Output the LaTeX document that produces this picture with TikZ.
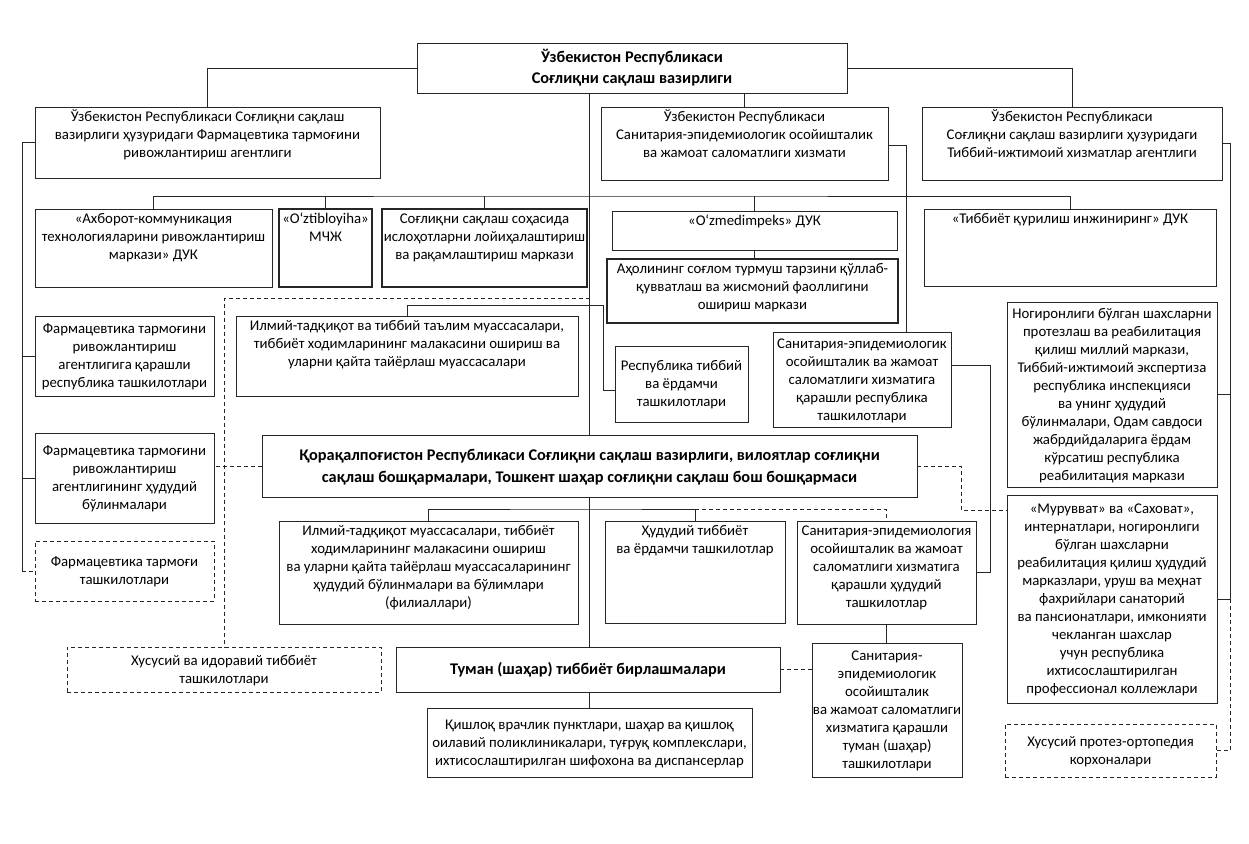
\documentclass[tikz,border=0pt]{standalone}
\usepackage{fontspec}
\setmainfont{Carlito}
\usetikzlibrary{calc}
\newcommand{\ubox}[8][]{%
  \node[boxst,#1,anchor=north west] (#2) at (#3,#4)
  {\parbox[t][\dimexpr #6pt-#4pt\relax][#7]{\dimexpr #5pt-#3pt\relax}{\centering\vspace*{2pt}%
  \begin{tabular}{@{}c@{}}#8\end{tabular}\par}};}
\tikzset{
  boxst/.style={draw=black!85, line width=0.8pt, fill=white, inner sep=0pt, outer sep=0pt,
    font=\fontsize{14.8}{18}\selectfont},
  thick box/.style={line width=1.6pt},
  dbox/.style={dash pattern=on 4pt off 3pt},
  ln/.style={draw=black!85, line width=0.8pt},
  dsh/.style={dash pattern=on 4pt off 3pt},
  boldt/.style={font=\fontsize{16.3}{22.5}\selectfont\bfseries}
}
\begin{document}
\begin{tikzpicture}[x=1pt,y=-1pt]
\fill[white] (0,0) rectangle (1249,843);
\useasboundingbox (0,0) rectangle (1249,843);

% ---- boxes
\ubox[font=\fontsize{16.3}{20.5}\selectfont\bfseries]{top}{417}{43}{847}{93}{c}{Ўзбекистон Республикаси\\Соғлиқни сақлаш вазирлиги}
\ubox{tl}{35}{107}{380}{178}{t}{Ўзбекистон Республикаси Соғлиқни сақлаш\\вазирлиги ҳузуридаги Фармацевтика тармоғини\\ривожлантириш агентлиги}
\ubox{tm}{601}{107}{888}{180}{t}{Ўзбекистон Республикаси\\Санитария-эпидемиологик осойишталик\\ва жамоат саломатлиги хизмати}
\ubox{tr}{922}{107}{1222}{180}{t}{Ўзбекистон Республикаси\\Соғлиқни сақлаш вазирлиги ҳузуридаги\\Тиббий-ижтимоий хизматлар агентлиги}

\ubox{axb}{35}{209}{272}{287}{t}{«Ахборот-коммуникация\\технологияларини ривожлантириш\\маркази» ДУК}
\ubox[thick box]{ozt}{279}{209}{372}{287}{t}{«O‘ztibloyiha»\\МЧЖ}
\ubox[thick box]{sog}{382}{209}{587}{287}{t}{Соғлиқни сақлаш соҳасида\\ислоҳотларни лойиҳалаштириш\\ва рақамлаштириш маркази}
\ubox{ozm}{612}{211}{897}{250}{t}{«O‘zmedimpeks» ДУК}
\ubox[thick box]{aho}{607}{259}{898}{323}{t}{Аҳолининг соғлом турмуш тарзини қўллаб-\\қувватлаш ва жисмоний фаоллигини\\ошириш маркази}
\ubox{tqm}{924}{209}{1216}{286}{t}{«Тиббиёт қурилиш инжиниринг» ДУК}

\ubox{fq}{35}{316}{214}{396}{c}{Фармацевтика тармоғини\\ривожлантириш\\агентлигига қарашли\\республика ташкилотлари}
\ubox{ilm}{236}{316}{578}{396}{t}{Илмий-тадқиқот ва тиббий таълим муассасалари,\\тиббиёт ходимларининг малакасини ошириш ва\\уларни қайта тайёрлаш муассасалари}
\ubox{rep}{615}{346}{748}{422}{c}{Республика тиббий\\ва ёрдамчи\\ташкилотлари}
\ubox{sanr}{773}{332}{951}{427}{c}{Санитария-эпидемиологик\\осойишталик ва жамоат\\саломатлиги хизматига\\қарашли республика\\ташкилотлари}
\ubox{nog}{1007}{302}{1217}{487}{c}{Ногиронлиги бўлган шахсларни\\протезлаш ва реабилитация\\қилиш миллий маркази,\\Тиббий-ижтимоий экспертиза\\республика инспекцияси\\ва унинг ҳудудий\\бўлинмалари, Одам савдоси\\жабрдийдаларига ёрдам\\кўрсатиш республика\\реабилитация маркази}
\ubox{mur}{1007}{495}{1217}{703}{c}{«Мурувват» ва «Саховат»,\\интернатлари, ногиронлиги\\бўлган шахсларни\\реабилитация қилиш ҳудудий\\марказлари, уруш ва меҳнат\\фахрийлари санаторий\\ва пансионатлари, имконияти\\чекланган шахслар\\учун республика\\ихтисослаштирилган\\профессионал коллежлари}
\ubox[dbox]{hpr}{1005}{724}{1216}{777}{c}{Хусусий протез-ортопедия\\корхоналари}

\ubox[boldt]{kq}{262}{435}{917}{497}{c}{Қорақалпоғистон Республикаси Соғлиқни сақлаш вазирлиги, вилоятлар соғлиқни\\сақлаш бошқармалари, Тошкент шаҳар соғлиқни сақлаш бош бошқармаси}
\ubox{fh}{35}{433}{214}{523}{c}{Фармацевтика тармоғини\\ривожлантириш\\агентлигининг ҳудудий\\бўлинмалари}
\ubox[dbox]{fd}{35}{541}{214}{601}{c}{Фармацевтика тармоғи\\ташкилотлари}

\ubox{ilml}{279}{521}{578}{624}{t}{Илмий-тадқиқот муассасалари, тиббиёт\\ходимларининг малакасини ошириш\\ва уларни қайта тайёрлаш муассасаларининг\\ҳудудий бўлинмалари ва бўлимлари\\(филиаллари)}
\ubox{hud}{605}{521}{785}{623}{t}{Ҳудудий тиббиёт\\ва ёрдамчи ташкилотлар}
\ubox{sanl}{797}{521}{976}{624}{t}{Санитария-эпидемиология\\осойишталик ва жамоат\\саломатлиги хизматига\\қарашли ҳудудий\\ташкилотлар}

\ubox[dbox]{hus}{67}{647}{381}{692}{c}{Хусусий ва идоравий тиббиёт\\ташкилотлари}
\ubox[font=\fontsize{16.3}{20}\selectfont\bfseries]{tum}{396}{647}{780}{692}{c}{Туман (шаҳар) тиббиёт бирлашмалари}
\ubox{sant}{812}{643}{962}{777}{c}{Санитария-\\эпидемиологик\\осойишталик\\ва жамоат саломатлиги\\хизматига қарашли\\туман (шаҳар)\\ташкилотлари}
\ubox{qis}{427}{708}{752}{777}{c}{Қишлоқ врачлик пунктлари, шаҳар ва қишлоқ\\оилавий поликлиникалари, туғруқ комплекслари,\\ихтисослаштирилган шифохона ва диспансерлар}

% ---- coordinates
\coordinate (bus) at (589.5,196);
\coordinate (tmr) at (906,145);
\coordinate (sr) at (990,365);
\coordinate (kb) at (589.5,509);
\coordinate (lc) at (22,0);
\coordinate (dj) at (589.5,298);
\coordinate (c2) at (961,510);
\coordinate (rc) at (1230,0);
\coordinate (c4) at (603,305);
\coordinate (c5) at (603,390);

% ---- connectors
\draw[ln] (top.west) -| (tl.north);
\draw[ln] (top.east) -| (tr.north);
\draw[ln] (tm.north |- top.south) -- (tm.north);
\draw[ln] (kq.north |- top.south) -- (kq.north);
\draw[ln] (axb.north) |- (bus) -| (tqm.north);
\draw[ln] (ozt.north) -- (ozt.north |- bus);
\draw[ln] (sog.north) -- (sog.north |- bus);
\draw[ln] (ozm.north) -- (ozm.north |- bus);
\draw[ln] (ozm.south) -- (ozm.south |- aho.north);
\draw[ln] (tmr -| tm.east) -- (tmr) -- (tmr |- sanr.north);
\draw[ln] (sr -| sanr.east) -- (sr) |- (sanl.east);
\draw[ln] (sanl.south) -- (sanl.south |- sant.north);
\draw[ln] (ilml.north) |- (kb) -| (hud.north);
\draw[ln,dsh] (hud.north |- kb) -| (sanl.north);
\draw[ln] (kq.south) -- (kq.south |- tum.north);
\draw[ln] (qis.north |- tum.south) -- (qis.north);
\draw[ln] (tl.west) -| (lc |- fd.west);
\draw[ln] (lc |- fq.west) -- (fq.west);
\draw[ln] (lc |- fh.west) -- (fh.west);
\draw[ln,dsh] (lc |- fd.west) -- (fd.west);
\draw[ln,dsh] (dj) -| (hus.north);
\draw[ln,dsh] (kq.west) -- (kq.west -| fh.east);
\draw[ln,dsh] (kq.east) -| (c2) -- (c2 -| mur.west);
\draw[ln] (tr.east) -| (rc |- mur.east) -- (mur.east);
\draw[ln] (nog.east) -- (nog.east -| rc);
\draw[ln,dsh] (rc |- mur.east) |- (hpr.east);
\draw[ln] (ilm.north) |- (c4) -- (c5) -- (c5 -| rep.west);
\draw[ln,dsh] (tum.east) -- (tum.east -| sant.west);
\end{tikzpicture}
\end{document}
